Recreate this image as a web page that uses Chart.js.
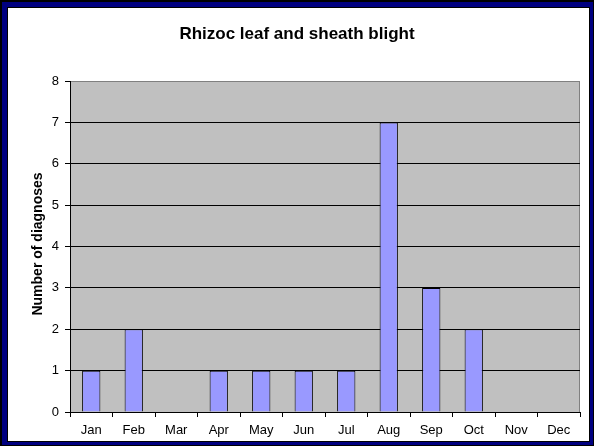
<!DOCTYPE html>
<html>
<head>
<meta charset="utf-8">
<script src="https://cdn.jsdelivr.net/npm/chart.js@4"></script>
<style>
  html, body { margin: 0; padding: 0; background: #fff; }
  #frame {
    position: absolute; left: 0; top: 0; width: 594px; height: 446px;
    box-sizing: border-box; background: #000; padding: 2px 1px 1px 2px;
  }
  #navy {
    width: 100%; height: 100%; box-sizing: border-box;
    background: #000080; padding: 5px 3px 3px 5px;
  }
  #inner {
    width: 100%; height: 100%; box-sizing: border-box;
    background: #fff; border: 1px solid #000;
  }
  #chart { position: absolute; left: 0; top: 0; }
</style>
</head>
<body>
<div id="frame"><div id="navy"><div id="inner"></div></div></div>
<canvas id="chart" width="594" height="446"></canvas>
<script>
// chart data
const months = ['Jan', 'Feb', 'Mar', 'Apr', 'May', 'Jun', 'Jul', 'Aug', 'Sep', 'Oct', 'Nov', 'Dec'];
const diagnoses = [1, 2, 0, 1, 1, 1, 1, 7, 3, 2, 0, 0];
const yTicks = [0, 1, 2, 3, 4, 5, 6, 7, 8];
const chartTitle = 'Rhizoc leaf and sheath blight';
const yTitle = 'Number of diagnoses';

const FONT = '"Liberation Sans", Arial, sans-serif';

// gray plot background + outline, plus title and rotated axis title
const excelLook = {
    id: 'excelLook',
    beforeDraw(chart) {
        const { ctx, chartArea: a } = chart;
        ctx.save();
        ctx.fillStyle = '#C0C0C0';
        ctx.fillRect(a.left, a.top, a.right - a.left, a.bottom - a.top);
        ctx.strokeStyle = '#808080';
        ctx.lineWidth = 1;
        ctx.strokeRect(a.left + 0.5, a.top + 0.5, a.right - a.left - 1, a.bottom - a.top);
        ctx.restore();
    },
    afterDraw(chart) {
        const { ctx, chartArea: a } = chart;
        ctx.save();
        ctx.fillStyle = '#000';
        ctx.textAlign = 'center';
        ctx.textBaseline = 'middle';
        ctx.font = 'bold 17px ' + FONT;
        ctx.fillText(chartTitle, 297, 34);
        ctx.translate(38, 244);
        ctx.rotate(-Math.PI / 2);
        ctx.font = 'bold 14px ' + FONT;
        ctx.fillText(yTitle, 0, 0);
        ctx.restore();
    }
};

new Chart(document.getElementById('chart'), {
    type: 'bar',
    data: {
        labels: months,
        datasets: [{
            data: diagnoses,
            backgroundColor: '#9999FF',
            borderColor: '#000',
            borderWidth: 1,
            borderSkipped: 'start',
            barPercentage: 0.43,
            categoryPercentage: 1
        }]
    },
    options: {
        responsive: false,
        animation: false,
        events: [],
        layout: { padding: { left: 0, top: 81, right: 14, bottom: 0 } },
        plugins: { legend: { display: false }, tooltip: { enabled: false }, title: { display: false } },
        scales: {
            x: {
                afterFit: s => { s.height = 34; },
                grid: { drawOnChartArea: false, tickLength: 5, color: '#000', offset: true },
                border: { color: '#000', width: 1 },
                ticks: { color: '#000', font: { family: FONT, size: 13 }, padding: 6, maxRotation: 0 }
            },
            y: {
                min: 0, max: 8,
                afterFit: s => { s.width = 70; },
                afterBuildTicks: s => { s.ticks = yTicks.map(v => ({ value: v })); },
                grid: {
                    color: c => (c.tick && c.tick.value === 8 ? '#808080' : '#000'),
                    tickColor: '#000',
                    tickLength: 5
                },
                border: { color: '#000', width: 1 },
                ticks: { color: '#000', font: { family: FONT, size: 13 }, padding: 6 }
            }
        }
    },
    plugins: [excelLook]
});
</script>
</body>
</html>
